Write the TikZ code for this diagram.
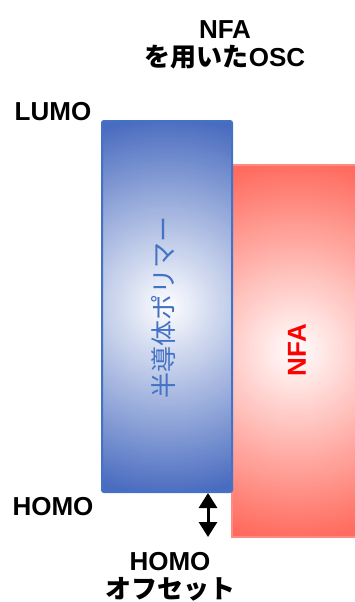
\documentclass[tikz,border=0pt]{standalone}
\usepackage{fontspec}
\setmainfont{Liberation Sans}
\newfontfamily\jp{Noto Sans CJK JP}
\usetikzlibrary{arrows.meta}
\definecolor{bluebox}{HTML}{4A6CC0}
\definecolor{blueedge}{HTML}{4472C4}
\definecolor{redbox}{HTML}{FF6B5E}
\definecolor{rededge}{HTML}{FF8A80}
\definecolor{bluetext}{HTML}{4472C4}
\begin{document}
\begin{tikzpicture}[x=1pt,y=-1pt,
  lbl/.style={font=\fontsize{26}{28}\selectfont\bfseries, align=center, inner sep=0pt},
  box/.style={line width=2pt, inner sep=0pt, outer sep=0pt},
  glow/.style={path picture={
    \foreach \k in {0,...,79}{
      \pgfmathsetmacro\rr{200-\k*2.5}
      \pgfmathsetmacro\pp{min(100,\rr/1.9)}
      \fill[#1!\pp!white] (path picture bounding box.center) circle (\rr pt);
    }}},
  dbl/.style={{Triangle[width=18pt,length=15pt]}-{Triangle[width=18pt,length=15pt]}, line width=3pt}]
\useasboundingbox (0,0) rectangle (355,602);
% NFA box
\node (nfa) [box, draw=rededge, fill=redbox, glow=redbox, minimum width=128pt, minimum height=372pt]
  at (296,351) {};
% polymer box
\node (poly) [box, draw=blueedge, fill=bluebox, glow=bluebox, rounded corners=2pt, minimum width=130pt, minimum height=371pt]
  at (167,306.5) {};
\node (polytext) [rotate=90, text=bluetext, inner sep=0pt, font={\jp\fontsize{26}{26}\selectfont}] at (164,307) {半導体ポリマー};
\node (nfatext) [rotate=90, text=red, inner sep=0pt, font={\bfseries\fontsize{26}{26}\selectfont}] at (297,350) {NFA};
% labels
\node (title) [lbl] at (225,45) {NFA\\{\jp を用いた}OSC};
\node (lumo) [lbl] at (53,112) {LUMO};
\node (homo) [lbl] at (53,507) {HOMO};
\node (offset) [lbl] at (170,577) {HOMO\\{\jp オフセット}};
% arrow
\coordinate (a1) at (208,493);
\coordinate (a2) at (208,537);
\draw[dbl] (a1) -- (a2);
\end{tikzpicture}
\end{document}
